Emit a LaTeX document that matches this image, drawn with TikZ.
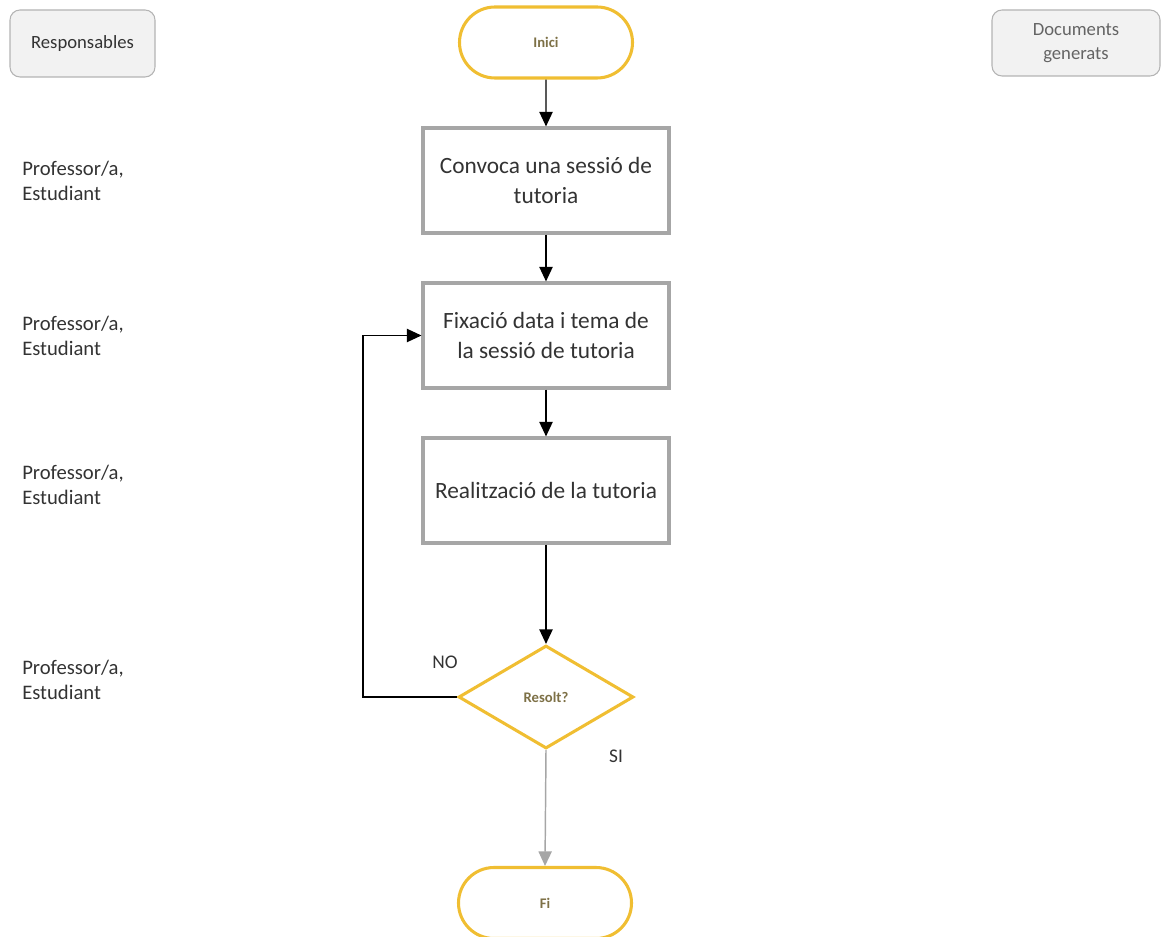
\documentclass[tikz,border=0pt]{standalone}
\usepackage{fontspec}
\setmainfont{Carlito}
\usetikzlibrary{shapes.geometric,shapes.misc,arrows.meta}
\definecolor{ylw}{RGB}{240,190,50}
\definecolor{boxgray}{RGB}{166,166,166}
\definecolor{olivetxt}{RGB}{125,112,70}
\definecolor{darktxt}{RGB}{51,51,51}
\definecolor{hdrfill}{RGB}{242,242,242}
\definecolor{hdrdraw}{RGB}{180,180,180}
\definecolor{hdrtxt}{RGB}{100,100,100}
\tikzset{
  header/.style={draw=hdrdraw, fill=hdrfill, line width=0.8pt, rounded corners=7.5pt, align=center, font=\fontsize{14}{18}\selectfont, inner sep=0pt},
  terminal/.style={draw=ylw, line width=2.3pt, rounded rectangle, minimum width=129.75pt, minimum height=53.25pt, inner sep=0pt, font=\fontsize{11}{13}\selectfont\bfseries, text=olivetxt},
  process/.style={draw=boxgray, line width=2.3pt, minimum width=184.5pt, minimum height=78.75pt, inner sep=0pt, align=center, font=\fontsize{17.5}{22.5}\selectfont, text=darktxt},
  decision/.style={draw=ylw, line width=2.3pt, diamond, minimum width=131.25pt, minimum height=77.25pt, inner sep=0pt, font=\fontsize{11}{13}\selectfont\bfseries, text=olivetxt},
  resp/.style={align=left, anchor=west, font=\fontsize{15.5}{19}\selectfont, text=darktxt, inner sep=0pt},
  lbl/.style={font=\fontsize{14.5}{17}\selectfont, text=darktxt, inner sep=0pt},
  arr/.style={line width=1.1pt, -{Triangle[length=11pt,width=10pt]}},
  garr/.style={line width=1.1pt, draw=boxgray, -{Triangle[length=11pt,width=10pt]}, color=boxgray}
}
\begin{document}
\begin{tikzpicture}[x=0.75pt,y=-0.75pt]
\useasboundingbox (0,0) rectangle (1162,937);
\node[header, minimum width=108.75pt, minimum height=50.25pt, text=darktxt] (hresp) at (82.5,43.5) {Responsables};
\node[header, minimum width=126pt, minimum height=49.5pt, text=hdrtxt] (hdoc) at (1076,43) {Documents\\generats};
\node[terminal] (inici) at (546,42.5) {Inici};
\node[process] (p1) at (546,180.5) {Convoca una sessió de\\tutoria};
\node[process] (p2) at (546,335.5) {Fixació data i tema de\\la sessió de tutoria};
\node[process] (p3) at (546,490.5) {Realització de la tutoria};
\node[decision] (dec) at (546,697) {Resolt?};
\node[terminal] (fi) at (545,903) {Fi};
\node[resp] (r1) at (22,181) {Professor/a,\\Estudiant};
\node[resp] (r2) at (22,336) {Professor/a,\\Estudiant};
\node[resp] (r3) at (22,485) {Professor/a,\\Estudiant};
\node[resp] (r4) at (22,680) {Professor/a,\\Estudiant};
\node[lbl] (no) at (445,662) {NO};
\node[lbl] (si) at (616,756) {SI};
\coordinate (lb) at (363,697);
\coordinate (lt) at (363,335.5);
\draw[arr] (inici) -- (p1);
\draw[arr] (p1) -- (p2);
\draw[arr] (p2) -- (p3);
\draw[arr] (p3) -- (dec);
\draw[arr] (dec.west) -- (lb) -- (lt) -- (p2.west);
\draw[garr] (dec.south) -- (fi.north);
\end{tikzpicture}
\end{document}
